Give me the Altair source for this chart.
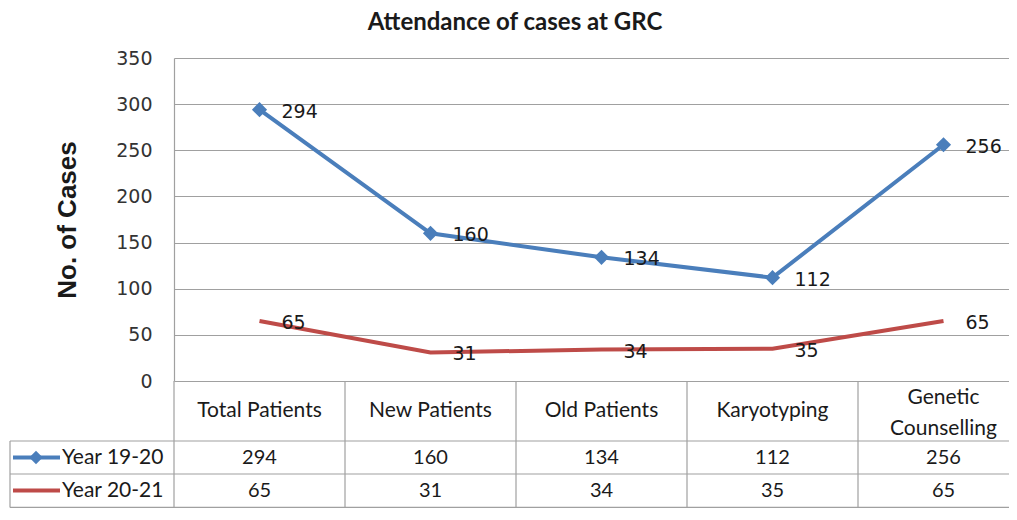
import altair as alt
import pandas as pd

categories = ["Total Patients", "New Patients", "Old Patients", "Karyotyping", "Genetic Counselling"]
header_labels = ["Total Patients", "New Patients", "Old Patients", "Karyotyping", "Genetic\nCounselling"]
series_names = ["Year 19-20", "Year 20-21"]
year_19_20 = [294, 160, 134, 112, 256]
year_20_21 = [65, 31, 34, 35, 65]
y_ticks = [0, 50, 100, 150, 200, 250, 300, 350]
chart_title = "Attendance of cases at GRC"
y_title = "No. of Cases"

BLUE = "#4a7ebb"
RED = "#be4b48"
GRID = "#a0a0a0"
TXT = "#1a1a1a"

rows = []
for s, vals in zip(series_names, [year_19_20, year_20_21]):
    for i, (c, v) in enumerate(zip(categories, vals)):
        rows.append({"category": c, "idx": i, "series": s, "value": v})
df = pd.DataFrame(rows)
cat_df = pd.DataFrame({"category": categories, "header": header_labels,
                       "idx": list(range(len(categories)))})
cat_df["edge"] = cat_df["idx"] - 0.5
cat_df["multi"] = cat_df["header"].str.contains("\n")
one = pd.DataFrame({"k": [0]})
ser_df = pd.DataFrame({"series": series_names})

W = 835  # plot width; the last category band runs past the right edge as in the original
BAND = 171.0
x_scale = alt.Scale(domain=[-0.5, -0.5 + W / BAND], nice=False, zero=False)
Xc = alt.X("idx:Q", scale=x_scale, axis=None)
X0 = alt.X("edge:Q", scale=x_scale, axis=None)
Y = alt.Y(
    "value:Q",
    scale=alt.Scale(domain=[0, 350], nice=False, zero=True),
    axis=alt.Axis(
        values=y_ticks, title=y_title,
        titleFont="Liberation Sans", titleFontSize=26, titleFontWeight="bold", titleColor=TXT,
        titleAngle=270, titleX=-107, titleY=161.5, titleAlign="center", titleBaseline="middle",
        labelFont="DejaVu Sans", labelFontSize=19, labelColor="#333333", labelPadding=22,
        ticks=False, grid=True, gridColor=GRID, gridWidth=1.2, domainColor=GRID, domainWidth=1.2,
    ),
)

base = alt.Chart(df)
s1 = base.transform_filter(alt.datum.series == series_names[0])
s2 = base.transform_filter(alt.datum.series == series_names[1])

red_line = s2.mark_line(color=RED, strokeWidth=4).encode(x=Xc, y=Y)
blue_line = s1.mark_line(color=BLUE, strokeWidth=4).encode(x=Xc, y=alt.Y("value:Q"))
blue_pts = s1.mark_point(shape="diamond", filled=True, size=230, color=BLUE, opacity=1).encode(x=Xc, y="value:Q")

lab_kw = dict(align="left", baseline="middle", dx=22, dy=2, font="DejaVu Sans", fontSize=19, color=TXT)
blue_lab = s1.mark_text(**lab_kw).encode(x=Xc, y="value:Q", text="value:Q")
red_lab = s2.mark_text(**lab_kw).encode(x=Xc, y="value:Q", text="value:Q")

# data table
head_kw = dict(font="Lato", fontSize=21, color=TXT, baseline="middle", align="center")
val_kw = dict(font="Lato", fontSize=20, color=TXT, baseline="middle", align="center")
header1 = alt.Chart(cat_df).transform_filter("!datum.multi").mark_text(**head_kw).encode(
    x=Xc, y=alt.value(353), text="header:N")
header2 = alt.Chart(cat_df).transform_filter("datum.multi").mark_text(
    lineBreak="\n", lineHeight=31, **head_kw).encode(
    x=Xc, y=alt.value(340), text="header:N")
row1 = s1.mark_text(**val_kw).encode(x=Xc, y=alt.value(399.5), text="value:Q")
row2 = s2.mark_text(**val_kw).encode(x=Xc, y=alt.value(432.5), text="value:Q")

vlines = alt.Chart(cat_df).mark_rule(color=GRID, strokeWidth=1.2).encode(
    x=X0, y=alt.value(323), y2=alt.value(449.5))
hl1 = alt.Chart(one).mark_rule(color=GRID, strokeWidth=1.2).encode(
    x=alt.value(-164), x2=alt.value(W), y=alt.value(383))
hl2 = alt.Chart(one).mark_rule(color=GRID, strokeWidth=1.2).encode(
    x=alt.value(-164), x2=alt.value(W), y=alt.value(416))
hl3 = alt.Chart(one).mark_rule(color=GRID, strokeWidth=1.2).encode(
    x=alt.value(-164), x2=alt.value(W), y=alt.value(449.4))
lborder = alt.Chart(one).mark_rule(color=GRID, strokeWidth=1.2).encode(
    x=alt.value(-164), y=alt.value(383), y2=alt.value(449.5))

leg1_line = alt.Chart(one).mark_rule(color=BLUE, strokeWidth=4).encode(
    x=alt.value(-161), x2=alt.value(-114), y=alt.value(399.5))
leg1_pt = alt.Chart(one).mark_point(shape="diamond", filled=True, size=180, color=BLUE, opacity=1).encode(
    x=alt.value(-138), y=alt.value(399.5))
leg2_line = alt.Chart(one).mark_rule(color=RED, strokeWidth=4).encode(
    x=alt.value(-161), x2=alt.value(-114), y=alt.value(432.5))
leg_txt1 = alt.Chart(ser_df).transform_filter(alt.datum.series == series_names[0]).mark_text(
    align="left", baseline="middle", font="Lato", fontSize=21, color=TXT).encode(
    x=alt.value(-112), y=alt.value(399.5), text="series:N")
leg_txt2 = alt.Chart(ser_df).transform_filter(alt.datum.series == series_names[1]).mark_text(
    align="left", baseline="middle", font="Lato", fontSize=21, color=TXT).encode(
    x=alt.value(-112), y=alt.value(432.5), text="series:N")

title = alt.Chart(pd.DataFrame({"t": [chart_title]})).mark_text(
    align="center", baseline="alphabetic", font="Lato", fontSize=24, fontWeight="bold", color=TXT).encode(
    x=alt.value(341), y=alt.value(-28), text="t:N")

chart = alt.layer(
    red_line, blue_line, blue_pts, blue_lab, red_lab,
    vlines, hl1, hl2, hl3, lborder, header1, header2, row1, row2,
    leg1_line, leg1_pt, leg2_line, leg_txt1, leg_txt2, title,
).properties(
    width=W, height=323,
    autosize=alt.AutoSizeParams(type="none"),
    padding={"left": 166, "top": 50, "right": 0, "bottom": 127},
    background="white",
).configure_view(stroke=None)

chart.save("out.html", embed_options={"renderer": "svg", "actions": False})
